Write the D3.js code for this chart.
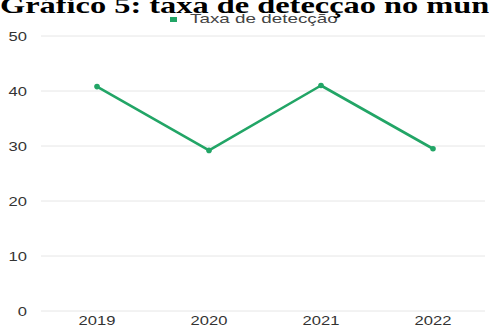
<!DOCTYPE html>
<html>
<head>
<meta charset="utf-8">
<script src="https://cdn.jsdelivr.net/npm/d3@7"></script>
<style>
  html, body { margin: 0; padding: 0; background: #fff; overflow: hidden; }
  svg { display: block; }
</style>
</head>
<body>
<svg id="chart" width="489" height="328"></svg>
<script>
// Detection rate per year
const years = ["2019", "2020", "2021", "2022"];
const rates = [40.8, 29.2, 41.0, 29.5];
const yTicks = [0, 10, 20, 30, 40, 50];
const titleText = "Gráfico 5: taxa de detecção no município";
const seriesName = "Taxa de detecção";

const width = 489, height = 328;
const margin = { top: 36, right: 4, bottom: 17, left: 41 };
const green = "#22a566";
const stretch = 1.38;      // wide glyph rendering of the axis labels
const legendStretch = 1.45;
const titleStretch = 1.35;

const svg = d3.select("#chart");

const x = d3.scaleBand()
  .domain(years)
  .range([margin.left, width])
  .padding(0);

const y = d3.scaleLinear()
  .domain([0, 50])
  .range([height - margin.bottom, margin.top]);

// Horizontal gridlines
svg.append("g")
  .selectAll("line")
  .data(yTicks)
  .join("line")
  .attr("x1", margin.left)
  .attr("x2", width - margin.right)
  .attr("y1", d => y(d))
  .attr("y2", d => y(d))
  .attr("stroke", "#e6e6e6")
  .attr("stroke-width", 1);

// Y axis labels
const yAxis = d3.axisLeft(y).tickValues(yTicks).tickSize(0).tickPadding(0);
const gy = svg.append("g").attr("transform", "translate(27,0)").call(yAxis);
gy.select(".domain").remove();
gy.selectAll("text")
  .attr("font-family", "Liberation Sans, Arial, sans-serif")
  .attr("font-size", 12)
  .attr("fill", "#333")
  .attr("dy", "0.35em")
  .attr("x", 0)
  .attr("text-anchor", "end")
  .attr("transform", `scale(${stretch},1)`);

// X axis labels
const xAxis = d3.axisBottom(x).tickSize(0).tickPadding(0);
const gx = svg.append("g").attr("transform", `translate(0,${height - 3})`).call(xAxis);
gx.select(".domain").remove();
gx.selectAll("text")
  .attr("font-family", "Liberation Sans, Arial, sans-serif")
  .attr("font-size", 12)
  .attr("fill", "#333")
  .attr("dy", 0)
  .attr("y", 0)
  .attr("transform", `scale(${stretch},1)`);

// Line
const line = d3.line()
  .x((d, i) => x(years[i]) + x.bandwidth() / 2)
  .y(d => y(d));

svg.append("path")
  .datum(rates)
  .attr("d", line)
  .attr("fill", "none")
  .attr("stroke", green)
  .attr("stroke-width", 2.6)
  .attr("stroke-linejoin", "round");

svg.append("g")
  .selectAll("circle")
  .data(rates)
  .join("circle")
  .attr("cx", (d, i) => x(years[i]) + x.bandwidth() / 2)
  .attr("cy", d => y(d))
  .attr("r", 2.8)
  .attr("fill", green);

// Legend
const legend = svg.append("g").attr("transform", "translate(170,17)");
legend.append("rect")
  .attr("width", 7).attr("height", 5)
  .attr("fill", green);
legend.append("text")
  .attr("x", 20 / legendStretch)
  .attr("y", 6)
  .attr("transform", `scale(${legendStretch},1)`)
  .attr("font-family", "Liberation Sans, Arial, sans-serif")
  .attr("font-size", 13)
  .attr("fill", "#444")
  .text(seriesName);

// Title
svg.append("text")
  .attr("x", 0)
  .attr("y", 13)
  .attr("transform", `scale(${titleStretch},1)`)
  .attr("font-family", "Liberation Serif, Times New Roman, serif")
  .attr("font-weight", "bold")
  .attr("font-size", 24)
  .attr("fill", "#000")
  .text(titleText);
</script>
</body>
</html>
